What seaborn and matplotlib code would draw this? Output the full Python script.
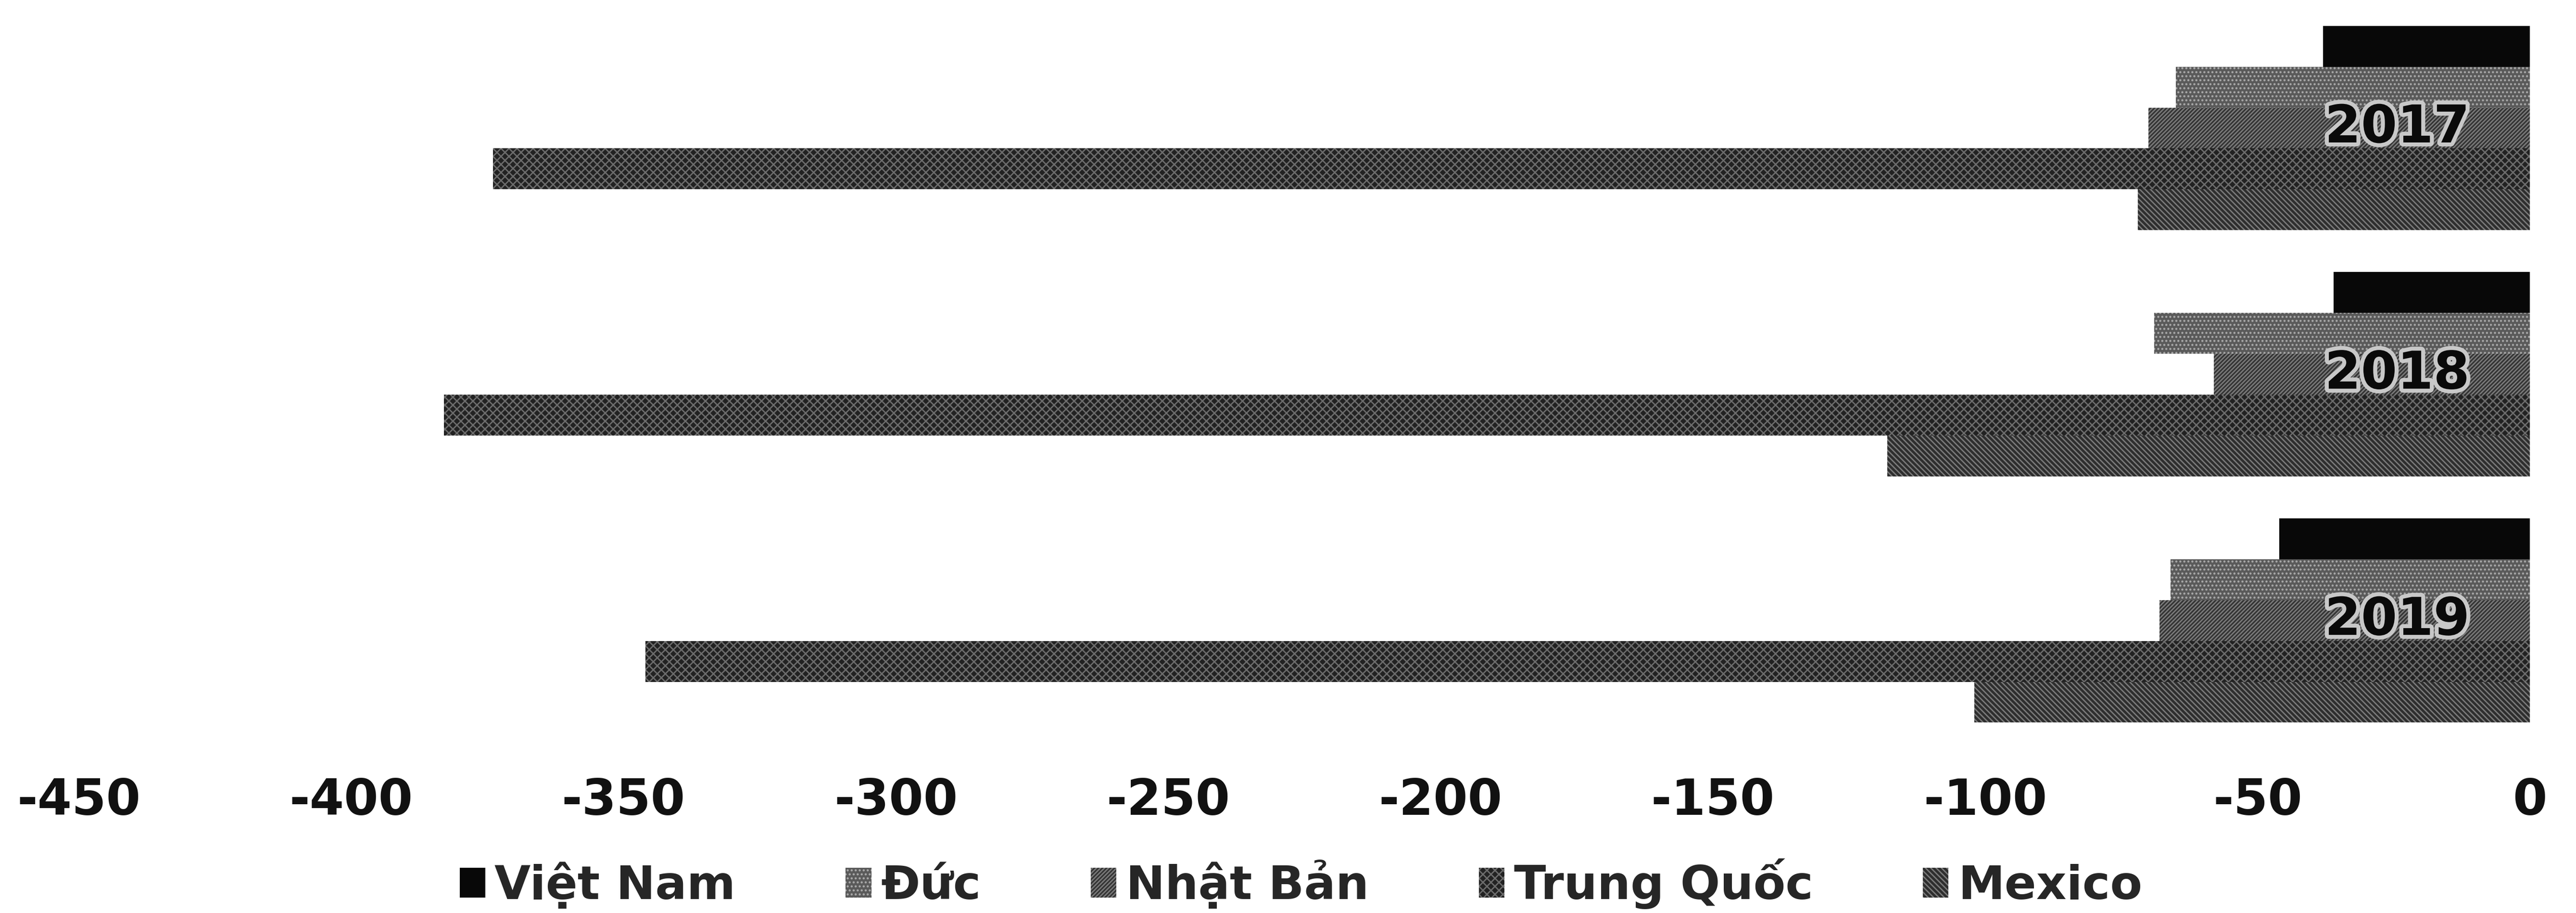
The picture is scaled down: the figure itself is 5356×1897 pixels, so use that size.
import matplotlib
matplotlib.use("Agg")
import matplotlib.pyplot as plt
import seaborn as sns
import pandas as pd
import matplotlib.patheffects as pe

# ---- data ----
years = ["2017", "2018", "2019"]
countries = ["Việt Nam", "Đức", "Nhật Bản", "Trung Quốc", "Mexico"]
viet_nam = [-38, -36, -46]
duc = [-65, -69, -66]
nhat_ban = [-70, -58, -68]
trung_quoc = [-374, -383, -346]
mexico = [-72, -118, -102]
x_ticks = [-450, -400, -350, -300, -250, -200, -150, -100, -50, 0]

series = [viet_nam, duc, nhat_ban, trung_quoc, mexico]
rows = []
for c, vals in zip(countries, series):
    for y, v in zip(years, vals):
        rows.append({"year": y, "country": c, "value": v})
df = pd.DataFrame(rows)

colors = ["#080808", "#5a5a5a", "#333333", "#222222", "#2e2e2e"]
hatches = ["", "..", "////", "xx", "\\\\\\"]
hatch_cols = ["#080808", "#a8a8a8", "#7a7a7a", "#6c6c6c", "#7a7a7a"]

sns.set_theme(style="white")
plt.rcParams["font.family"] = ["DejaVu Sans"]
plt.rcParams["axes.unicode_minus"] = False
plt.rcParams["hatch.linewidth"] = 2.0

fig = plt.figure(figsize=(53.56, 18.97), dpi=100)
ax = fig.add_axes([0.0306, 0.1856, 0.9515, 0.809])

sns.barplot(data=df, x="value", y="year", hue="country", order=years,
            hue_order=countries, palette=colors, orient="h", width=0.83,
            saturation=1, linewidth=0, ax=ax)

for cont, h, hc in zip(ax.containers, hatches, hatch_cols):
    for bar in cont:
        bar.set_hatch(h)
        bar.set_edgecolor(hc)
        bar.set_linewidth(0)

ax.set_xlim(-450, 0)
ax.set_ylim(2.5, -0.5)
ax.set_xticks(x_ticks)
ax.set_xticklabels([str(t) for t in x_ticks], fontsize=74, fontweight="bold",
                   color="#111111")
ax.tick_params(axis="x", length=0, pad=50)
ax.set_xlabel("")
ax.set_ylabel("")
ax.set_yticks(range(len(years)))
ax.set_yticklabels([])
ax.tick_params(axis="y", length=0)

# category labels sit just inside the zero line
for i, yr in enumerate(years):
    ax.annotate(yr, xy=(1, i), xycoords=ax.get_yaxis_transform(),
                xytext=(-90, 0), textcoords="offset points",
                ha="right", va="center", fontsize=78, fontweight="bold",
                color="#0a0a0a",
                path_effects=[pe.withStroke(linewidth=12, foreground="#c8c8c8")])

for s in ax.spines.values():
    s.set_visible(False)
ax.grid(False)

handles, labels = ax.get_legend_handles_labels()
if ax.get_legend() is not None:
    ax.get_legend().remove()
for hd, h, hc in zip(handles, hatches, hatch_cols):
    hd.set_hatch(h)
    hd.set_edgecolor(hc)
    hd.set_linewidth(0)
fig.legend(handles, labels, loc="center", bbox_to_anchor=(0.505, 0.032),
           ncol=5, frameon=False, prop={"size": 70, "weight": "bold"},
           handlelength=0.55, handleheight=0.6, handletextpad=0.2,
           columnspacing=2.35)

fig.savefig("out.png", dpi=100, facecolor="white")
